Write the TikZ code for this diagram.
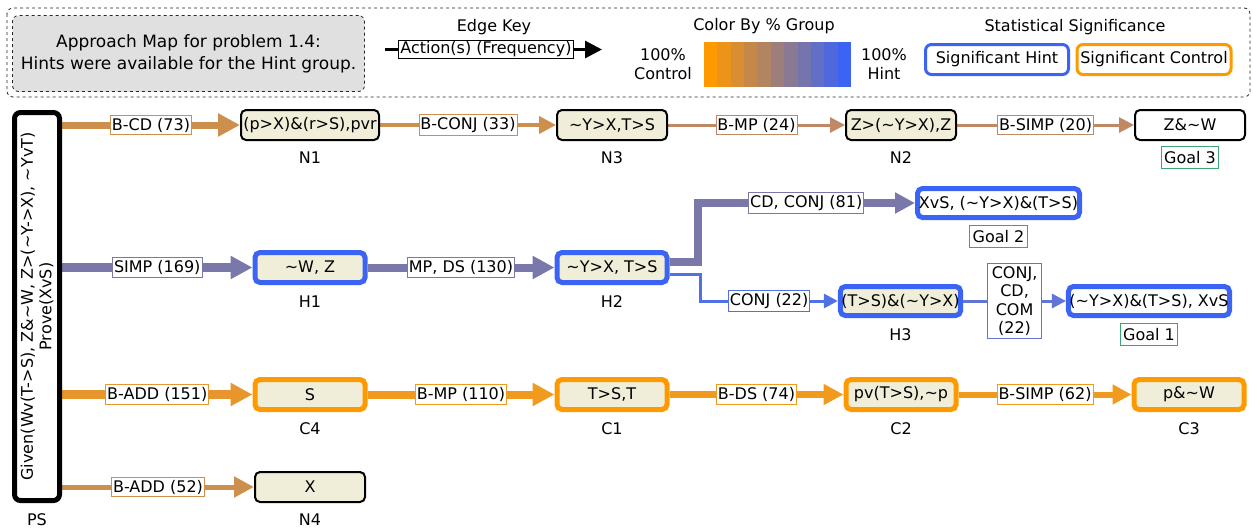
\documentclass[tikz,border=0pt]{standalone}
\usepackage{fontspec}
\setmainfont{DejaVu Sans}
\usetikzlibrary{arrows.meta, positioning, backgrounds}
\newcommand{\tld}{\textasciitilde}

\definecolor{hintblue}{RGB}{59,100,245}
\definecolor{ctrlorange}{RGB}{255,153,0}
\definecolor{stcream}{RGB}{240,238,216}
\definecolor{goalgreen}{RGB}{60,165,115}
\definecolor{keygray}{RGB}{224,224,224}
\definecolor{tanA}{RGB}{204,143,78}
\definecolor{tanB}{RGB}{190,137,100}
\definecolor{purp}{RGB}{122,119,170}
\definecolor{blueA}{RGB}{80,112,230}
\definecolor{blueB}{RGB}{98,116,214}
\definecolor{orgA}{RGB}{230,150,45}
\definecolor{orgB}{RGB}{240,155,30}

\tikzset{
  every node/.style={font=\fontsize{16}{18.5}\selectfont},
  state/.style={draw, line width=2pt, rounded corners=5pt, fill=stcream, minimum width=110pt, minimum height=30pt, inner xsep=1pt},
  sighint/.style={draw=hintblue, line width=5pt},
  sigctrl/.style={draw=ctrlorange, line width=5pt},
  goal/.style={fill=white},
  tag/.style={label={[label distance=7pt]below:#1}},
  goaltag/.style={label={[label distance=5pt, draw=goalgreen, line width=0.8pt, inner xsep=3pt, inner ysep=5pt]below:#1}},
  freq/.style={draw=#1, fill=white, text=black, line width=0.8pt, inner xsep=1.5pt, inner ysep=2.5pt},
  hop/.style n args={2}{line width=#1, -{Triangle[length=#2, width=#2]}},
  keybox/.style={draw, line width=3pt, rounded corners=6pt, minimum width=#1, minimum height=30pt}
}

\begin{document}
\begin{tikzpicture}[x=1pt, y=-1pt]
\useasboundingbox (0,0) rectangle (1253,528);

% legend
\draw[dashed, line width=0.8pt, draw=black!85, rounded corners=6pt] (7,8) rectangle (1250,97);
\node[draw=black!85, dashed, line width=0.8pt, fill=keygray, rounded corners=6pt, minimum width=352pt, minimum height=76pt, align=center, font=\fontsize{17}{22}\selectfont] (title) at (188.5,53.5)
  {Approach Map for problem 1.4:\\Hints were available for the Hint group.};

\node (keyhead) at (494,27) {Edge Key};
\coordinate (k1) at (385,49.5);
\coordinate (k2) at (602,49.5);
\draw[line width=3pt, -{Triangle[length=17pt, width=17pt]}] (k1) -- node[pos=0.465, draw, fill=white, text=black, line width=0.8pt, inner sep=1.5pt] (keylbl) {Action(s) (Frequency)} (k2);

\node (colhead) at (764,26) {Color By \% Group};
\foreach \i in {0,...,10} {
  \pgfmathtruncatemacro\pct{\i*10}
  \fill[hintblue!\pct!ctrlorange] (704+\i*13.36,42) rectangle ++(13.6,45);
}
\node[align=center] (ctrlkey) at (663,64) {100\%\\Control};
\node[align=center] (hintkey) at (884,64) {100\%\\Hint};

\node (sighead) at (1075,27) {Statistical Significance};
\node[keybox=143pt, draw=hintblue] (sigh) at (997,59.5) {Significant Hint};
\node[keybox=145pt, draw=ctrlorange] (sigc) at (1154,59.5) {Significant Control};

% problem start
\node[draw, line width=5pt, rounded corners=6pt, minimum width=45pt, minimum height=388pt, tag=PS] (ps) at (37,306.5) {};
\node[rotate=90, align=center] (pstext) at (ps) {Given(Wv(T->S), Z\&\tld W, Z>(\tld Y->X), \tld YvT)\\Prove(XvS)};

% states
\node[state, minimum width=138pt, tag=N1] (n1) at (310,125) {(p>X)\&(r>S),pvr};
\node[state, tag=N3] (n3) at (612,125) {\tld Y>X,T>S};
\node[state, tag=N2] (n2) at (901,125) {Z>(\tld Y>X),Z};
\node[state, goal, goaltag=Goal 3] (g3) at (1190,125) {Z\&\tld W};

\node[state, sighint, tag=H1] (h1) at (310,267.5) {\tld W, Z};
\node[state, sighint, tag=H2] (h2) at (612,267.5) {\tld Y>X, T>S};
\node[state, sighint, goal, minimum width=162pt, minimum height=29pt, goaltag=Goal 2] (g2) at (998.5,203) {XvS, (\tld Y>X)\&(T>S)};
\node[state, sighint, minimum width=120pt, minimum height=29pt, tag=H3] (h3) at (900.5,301) {(T>S)\&(\tld Y>X)};
\node[state, sighint, goal, minimum width=161pt, minimum height=29pt, goaltag=Goal 1] (g1) at (1149,301) {(\tld Y>X)\&(T>S), XvS};

\node[state, sigctrl, tag=C4] (c4) at (310,394.5) {S};
\node[state, sigctrl, tag=C1] (c1) at (612,394.5) {T>S,T};
\node[state, sigctrl, tag=C2] (c2) at (901,394.5) {pv(T>S),\tld p};
\node[state, sigctrl, tag=C3] (c3) at (1189,394.5) {p\&\tld W};

\node[state, tag=N4] (n4) at (310,487) {X};

% transitions
\begin{scope}[on background layer]
\draw[hop={7pt}{22pt}, tanA] (ps.east |- n1) -- node[freq=tanA]{B-CD (73)} (n1);
\draw[hop={4pt}{17pt}, tanA] (n1) -- node[freq=tanA]{B-CONJ (33)} (n3);
\draw[hop={3pt}{15pt}, tanB] (n3) -- node[freq=tanB]{B-MP (24)} (n2);
\draw[hop={3pt}{15pt}, tanB] (n2) -- node[freq=tanB]{B-SIMP (20)} (g3);

\draw[hop={9pt}{22pt}, purp] (ps.east |- h1) -- node[freq=purp]{SIMP (169)} (h1);
\draw[hop={8pt}{22pt}, purp] (h1) -- node[freq=purp]{MP, DS (130)} (h2);
\draw[hop={8pt}{20pt}, purp] (h2.5) -- ++(28,0) |- node[pos=0.75, freq=purp]{CD, CONJ (81)} (g2);
\draw[hop={3pt}{14pt}, blueA] (h2.-7) -- ++(31,0) |- node[pos=0.75, freq=blueA]{CONJ (22)} (h3);
\draw[hop={3pt}{14pt}, blueB] (h3) -- node[freq=blueB, align=center, inner xsep=4pt]{CONJ,\\CD,\\COM\\(22)} (g1);

\draw[hop={9pt}{22pt}, orgA] (ps.east |- c4) -- node[freq=orgA]{B-ADD (151)} (c4);
\draw[hop={8pt}{22pt}, orgB] (c4) -- node[freq=orgB]{B-MP (110)} (c1);
\draw[hop={7pt}{20pt}, orgB] (c1) -- node[freq=orgB]{B-DS (74)} (c2);
\draw[hop={6pt}{19pt}, orgB] (c2) -- node[freq=orgB]{B-SIMP (62)} (c3);

\draw[hop={5pt}{20pt}, tanA] (ps.east |- n4) -- node[freq=tanA]{B-ADD (52)} (n4);
\end{scope}
\end{tikzpicture}
\end{document}
